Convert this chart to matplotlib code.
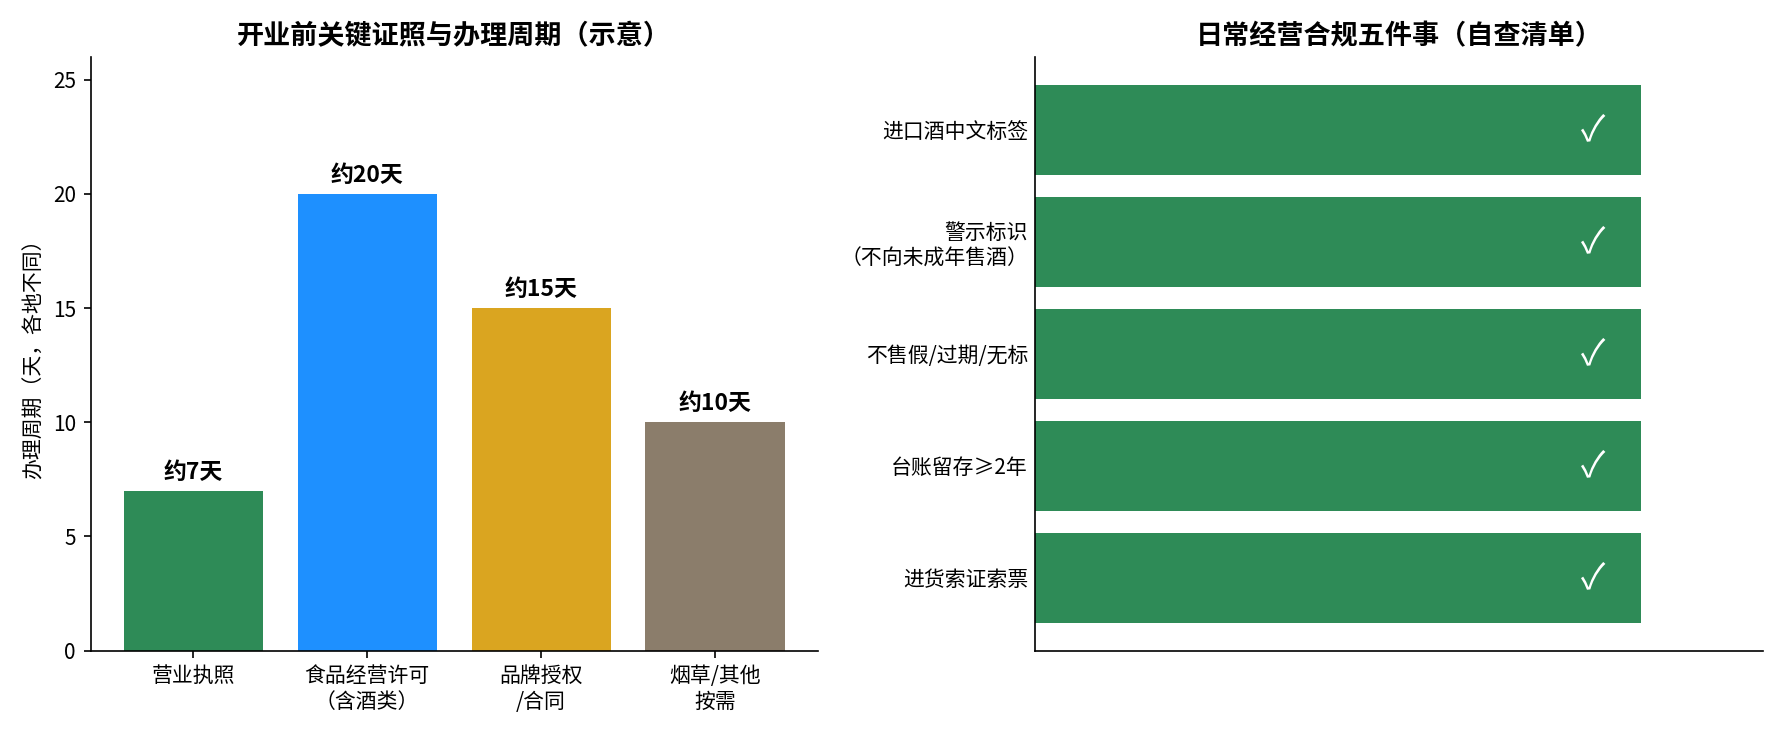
import matplotlib.pyplot as plt

plt.rcParams['font.family'] = ['Noto Sans CJK SC', 'DejaVu Sans']

# 左图数据
licenses = ['营业执照', '食品经营许可\n（含酒类）', '品牌授权\n/合同', '烟草/其他\n按需']
days = [7, 20, 15, 10]
day_labels = ['约7天', '约20天', '约15天', '约10天']
bar_colors = ['#2E8B57', '#1E90FF', '#DAA520', '#8B7D6B']

# 右图数据
checklist = ['进口酒中文标签', '警示标识\n（不向未成年售酒）', '不售假/过期/无标', '台账留存≥2年', '进货索证索票']
done = [1, 1, 1, 1, 1]

fig, (ax1, ax2) = plt.subplots(1, 2, figsize=(11.9, 4.9), dpi=150)

bars = ax1.bar(licenses, days, color=bar_colors, width=0.8)
for b, lab in zip(bars, day_labels):
    ax1.text(b.get_x() + b.get_width() / 2, b.get_height() + 0.3, lab,
             ha='center', va='bottom', fontsize=11, fontweight='bold')
ax1.set_ylim(0, 26)
ax1.set_ylabel('办理周期（天，各地不同）', fontsize=10)
ax1.set_title('开业前关键证照与办理周期（示意）', fontsize=13, fontweight='bold')
ax1.spines[['top', 'right']].set_visible(False)

y = list(range(len(checklist)))
ax2.barh(y, done, color='#2E8B57', height=0.8)
for yi in y:
    ax2.text(0.92, yi, '✓', color='white', fontsize=17, ha='center', va='center')
ax2.set_yticks(y)
ax2.set_yticklabels(checklist, fontsize=10)
ax2.set_xlim(0, 1.2)
ax2.set_ylim(-0.65, 4.65)
ax2.invert_yaxis()
ax2.set_xticks([])
ax2.tick_params(axis='y', length=0)
ax2.set_title('日常经营合规五件事（自查清单）', fontsize=13, fontweight='bold')
ax2.spines[['top', 'right']].set_visible(False)

plt.tight_layout()
plt.savefig('out.png', dpi=150)
